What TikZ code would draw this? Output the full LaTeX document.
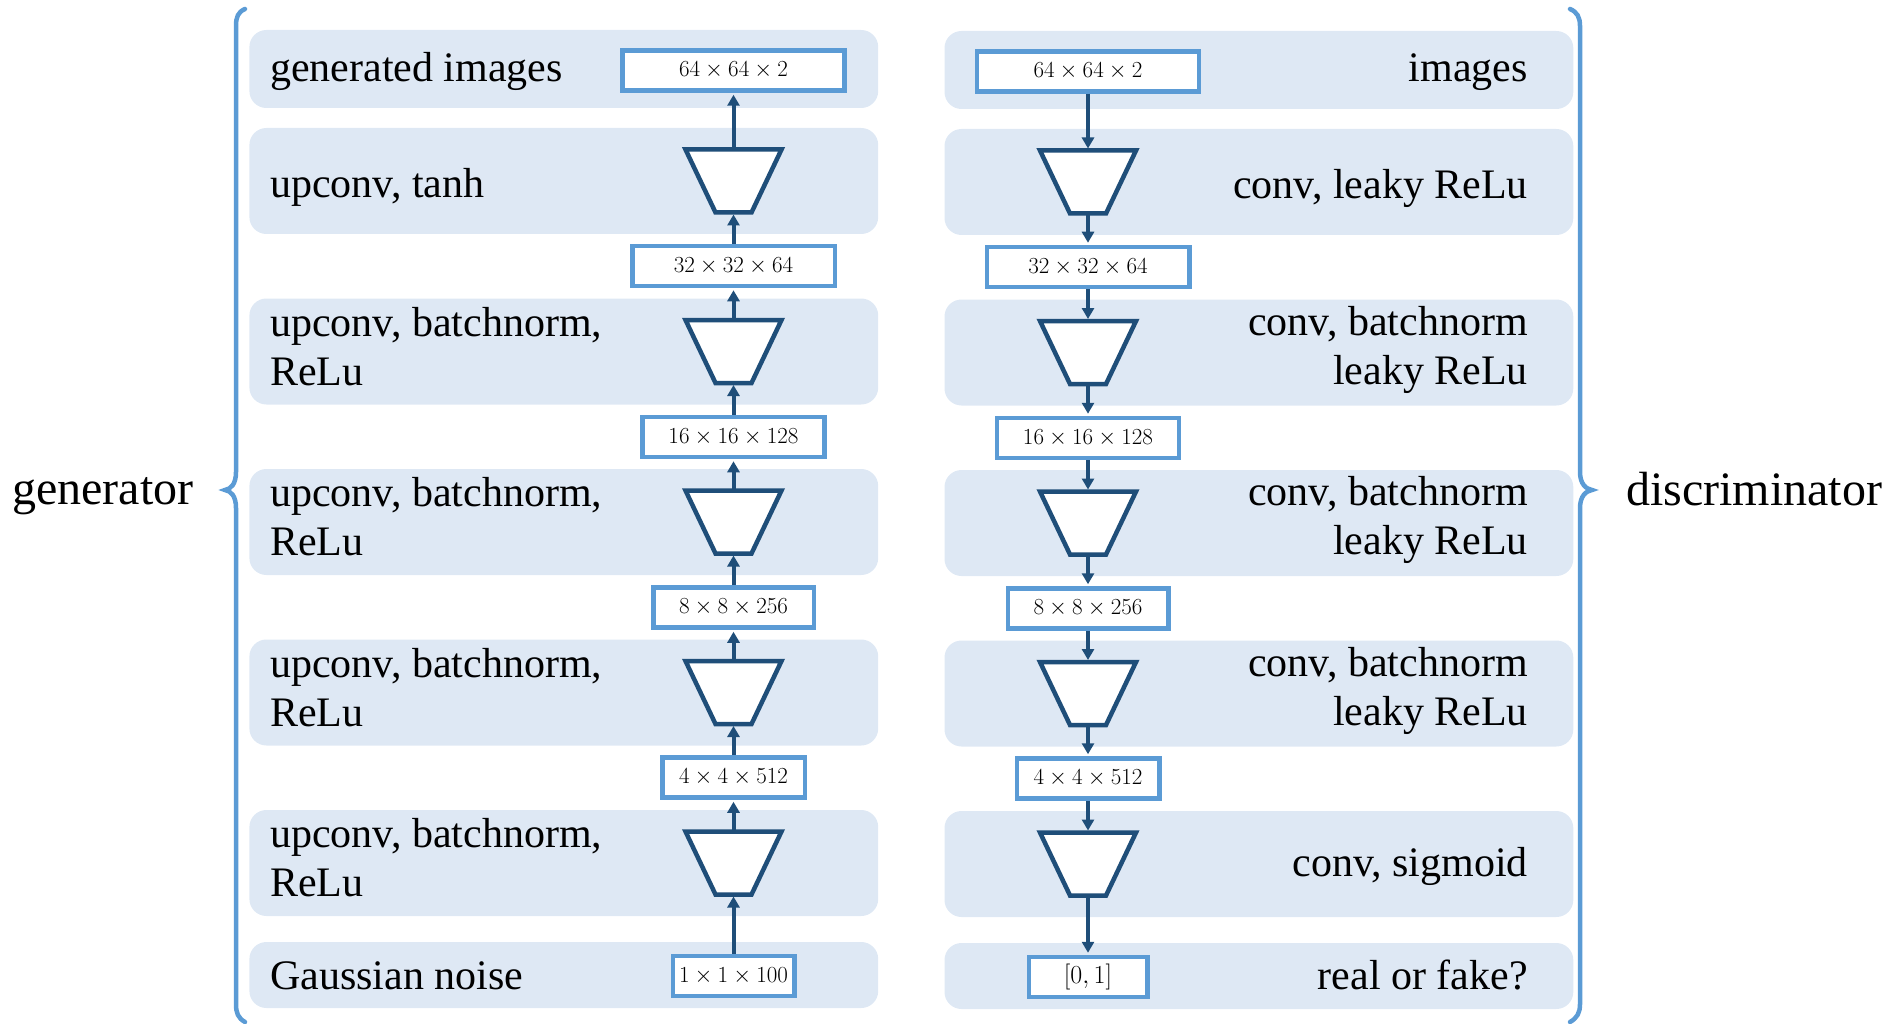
\RequirePackage{fix-cm}
\documentclass[tikz,border=0pt]{standalone}
\usepackage[no-math]{fontspec}
\setmainfont{Liberation Serif}
\usetikzlibrary{arrows.meta}
\definecolor{panelc}{HTML}{DEE8F4}
\definecolor{boxc}{HTML}{5B9BD5}
\definecolor{darkc}{HTML}{1F4E79}
\newcommand\trapz[3]{%
  \coordinate (#1) at (#2,#3);
  \draw[trapline] ([shift={(-48,-31.5)}]#1) -- ([shift={(48,-31.5)}]#1) -- ([shift={(18,31.5)}]#1) -- ([shift={(-18,31.5)}]#1) -- cycle;
  \coordinate (#1t) at ([shift={(0,-31.5)}]#1);
  \coordinate (#1b) at ([shift={(0,31.5)}]#1);
}
\begin{document}
\begin{tikzpicture}[x=1pt,y=-1pt,
  panel/.style={fill=panelc, rounded corners=17pt, minimum width=628.8pt, inner sep=0pt},
  sizebox/.style={draw=boxc, line width=4.5pt, fill=white, minimum height=40pt, inner sep=0pt, font=\fontsize{23}{27}\selectfont},
  ltext/.style={anchor=west, align=left, font=\fontsize{42}{49}\selectfont, inner sep=0pt},
  rtext/.style={anchor=east, align=right, font=\fontsize{42}{49}\selectfont, inner sep=0pt},
  side/.style={anchor=base, font=\fontsize{48}{56}\selectfont, inner sep=0pt},
  trapline/.style={draw=darkc, line width=4.5pt, fill=white, line join=miter},
  arr/.style={draw=darkc, line width=4pt, shorten >=2pt, -{Triangle[length=11pt,width=12pt]}},
  brace/.style={draw=boxc, line width=4.5pt, line cap=round}
]
\useasboundingbox (0,0) rectangle (1889,1024);
% panels left
\node[panel, minimum height=78pt]  (pL1) at (563.8,69) {};
\node[panel, minimum height=106pt] (pL2) at (563.8,181) {};
\node[panel, minimum height=106pt] (pL3) at (563.8,351.5) {};
\node[panel, minimum height=106pt] (pL4) at (563.8,522) {};
\node[panel, minimum height=106pt] (pL5) at (563.8,692.5) {};
\node[panel, minimum height=106pt] (pL6) at (563.8,863) {};
\node[panel, minimum height=66pt]  (pL7) at (563.8,975) {};
% panels right
\node[panel, minimum height=78pt]  (pR1) at (1258.9,70) {};
\node[panel, minimum height=106pt] (pR2) at (1258.9,182) {};
\node[panel, minimum height=106pt] (pR3) at (1258.9,352.5) {};
\node[panel, minimum height=106pt] (pR4) at (1258.9,523) {};
\node[panel, minimum height=106pt] (pR5) at (1258.9,693.5) {};
\node[panel, minimum height=106pt] (pR6) at (1258.9,864) {};
\node[panel, minimum height=66pt]  (pR7) at (1258.9,976) {};
% texts left
\node[ltext] (tL1) at (270,71.5) {generated images};
\node[ltext] (tL2) at (270,187) {upconv, tanh};
\node[ltext] (tL3) at (270,346.5) {upconv, batchnorm,\\ReLu};
\node[ltext] (tL4) at (270,517) {upconv, batchnorm,\\ReLu};
\node[ltext] (tL5) at (270,687.5) {upconv, batchnorm,\\ReLu};
\node[ltext] (tL6) at (270,858) {upconv, batchnorm,\\ReLu};
\node[ltext] (tL7) at (270,976) {Gaussian noise};
% texts right
\node[rtext] (tR1) at (1528,72.5) {images};
\node[rtext] (tR2) at (1528,188) {conv, leaky ReLu};
\node[rtext] (tR3) at (1528,349.5) {conv, batchnorm\\leaky ReLu};
\node[rtext] (tR4) at (1528,520) {conv, batchnorm\\leaky ReLu};
\node[rtext] (tR5) at (1528,690.5) {conv, batchnorm\\leaky ReLu};
\node[rtext] (tR6) at (1528,866.5) {conv, sigmoid};
\node[rtext] (tR7) at (1528,975.5) {real or fake?};
% side labels
\node[side] (gen) at (102.7,504) {generator};
\node[side] (dis) at (1754,505) {discriminator};
% size boxes left
\node[sizebox, minimum width=222pt]   (sL1) at (733.5,70.5) {$64\times64\times2$};
\node[sizebox, minimum width=202.5pt] (sL2) at (733.5,266) {$32\times32\times64$};
\node[sizebox, minimum width=182pt]   (sL3) at (733.5,437) {$16\times16\times128$};
\node[sizebox, minimum width=160.5pt] (sL4) at (733.5,607.5) {$8\times8\times256$};
\node[sizebox, minimum width=142.5pt] (sL5) at (733.5,777.5) {$4\times4\times512$};
\node[sizebox, minimum width=121.5pt] (sL7) at (733.5,976) {$1\times1\times100$};
% size boxes right
\node[sizebox, minimum width=222pt]   (sR1) at (1088,71.5) {$64\times64\times2$};
\node[sizebox, minimum width=202.5pt] (sR2) at (1088,267) {$32\times32\times64$};
\node[sizebox, minimum width=182pt]   (sR3) at (1088,438) {$16\times16\times128$};
\node[sizebox, minimum width=160.5pt] (sR4) at (1088,608.5) {$8\times8\times256$};
\node[sizebox, minimum width=142.5pt] (sR5) at (1088,778.5) {$4\times4\times512$};
\node[sizebox, minimum width=118.5pt, font=\fontsize{26}{30}\selectfont] (sR7) at (1088,977) {$[0,1]$};
% trapezoids
\trapz{gA}{733.5}{181}
\trapz{gB}{733.5}{351.5}
\trapz{gC}{733.5}{522}
\trapz{gD}{733.5}{692.5}
\trapz{gE}{733.5}{863}
\trapz{dA}{1088}{182}
\trapz{dB}{1088}{352.5}
\trapz{dC}{1088}{523}
\trapz{dD}{1088}{693.5}
\trapz{dE}{1088}{864}
% generator arrows (upward)
\draw[arr] (sL7.north) -- (gEb);
\draw[arr] (gEt) -- (sL5.south);
\draw[arr] (sL5.north) -- (gDb);
\draw[arr] (gDt) -- (sL4.south);
\draw[arr] (sL4.north) -- (gCb);
\draw[arr] (gCt) -- (sL3.south);
\draw[arr] (sL3.north) -- (gBb);
\draw[arr] (gBt) -- (sL2.south);
\draw[arr] (sL2.north) -- (gAb);
\draw[arr] (gAt) -- (sL1.south);
% discriminator arrows (downward)
\draw[arr] (sR1.south) -- (dAt);
\draw[arr] (dAb) -- (sR2.north);
\draw[arr] (sR2.south) -- (dBt);
\draw[arr] (dBb) -- (sR3.north);
\draw[arr] (sR3.south) -- (dCt);
\draw[arr] (dCb) -- (sR4.north);
\draw[arr] (sR4.south) -- (dDt);
\draw[arr] (dDb) -- (sR5.north);
\draw[arr] (sR5.south) -- (dEt);
\draw[arr] (dEb) -- (sR7.north);
% braces
\draw[brace] (245,9) .. controls (238,12) and (236,17) .. (236,26) -- (236,472)
  .. controls (236,484) and (231,489) .. (225,490)
  .. controls (231,491) and (236,496) .. (236,508) -- (236,1004)
  .. controls (236,1013) and (238,1018) .. (245,1022);
\draw[brace] (1570,9) .. controls (1577,12) and (1580,17) .. (1580,26) -- (1580,472)
  .. controls (1580,484) and (1586,489) .. (1592,490)
  .. controls (1586,491) and (1580,496) .. (1580,508) -- (1580,1004)
  .. controls (1580,1013) and (1577,1018) .. (1570,1022);
\end{tikzpicture}
\end{document}
